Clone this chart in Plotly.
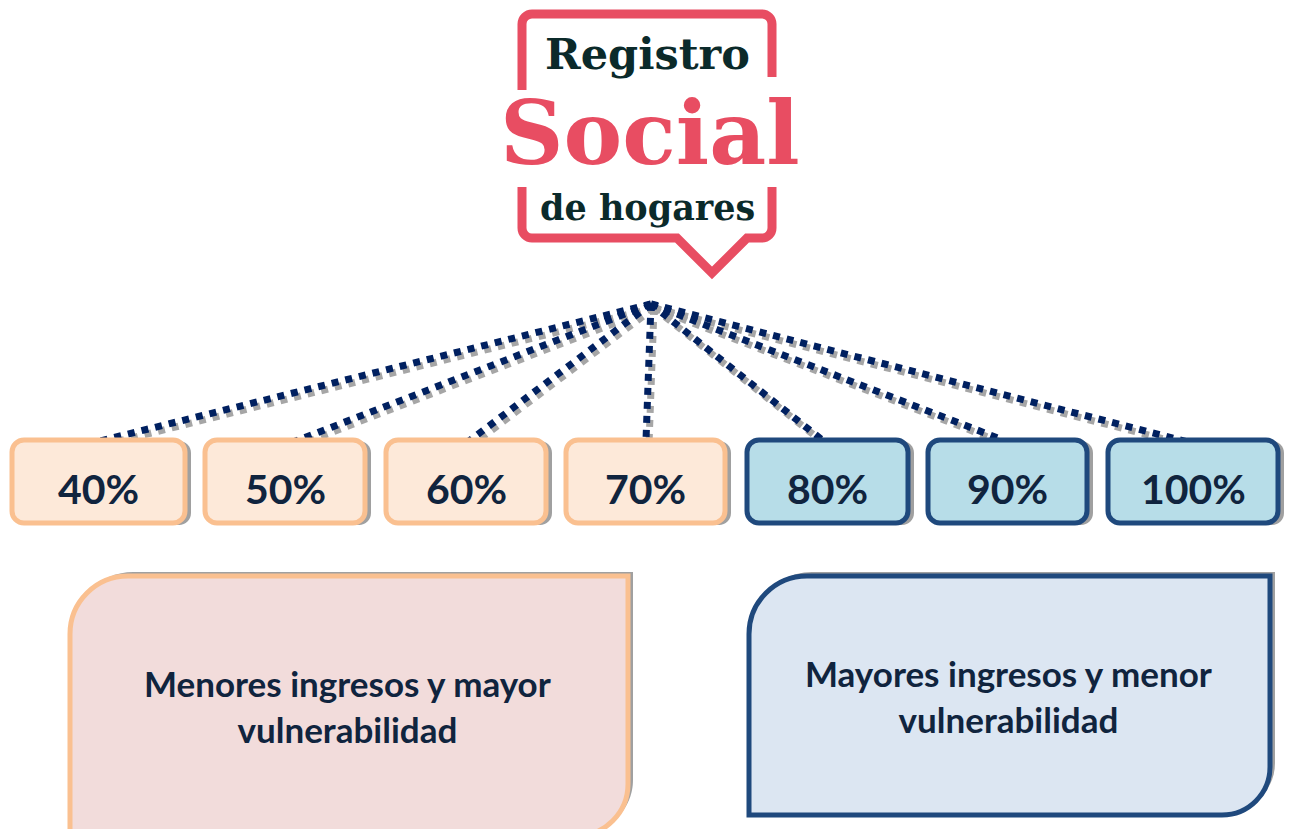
import plotly.graph_objects as go

# ---- data ----
percent_labels = ["40%", "50%", "60%", "70%", "80%", "90%", "100%"]
percent_group = ["low", "low", "low", "low", "high", "high", "high"]
group_texts = {"low": "Menores ingresos y mayor<br>vulnerabilidad",
               "high": "Mayores ingresos y menor<br>vulnerabilidad"}
logo_lines = ["Registro", "Social", "de hogares"]

# ---- layout constants ----
W, H = 1289, 829
box_x0 = [12, 205, 386, 566, 747, 928, 1108]
box_x1 = [185, 365, 546, 725, 908, 1087, 1278]
box_y0, box_y1 = 440, 523
line_ends = [(100, 441), (288, 444), (469, 441), (646, 440), (826, 443), (1003, 440), (1188, 442)]
hub = (651, 304)

NAVY_TXT = "#10243E"
LINE_NAVY = "#002060"
PINK = "#E84D62"
DARK = "#0B2A2A"
styles = {"low": dict(fill="#FDE9D9", border="#FAC090"),
          "high": dict(fill="#B7DDE8", border="#1F497D")}
big_styles = {"low": dict(fill="#F2DCDB", border="#FAC090"),
              "high": dict(fill="#DCE6F2", border="#1F497D")}

K = 0.5523


def rpath(x0, y0, x1, y1, tl=0, tr=0, br=0, bl=0):
    p = f"M {x0+tl},{y0} L {x1-tr},{y0} "
    if tr:
        p += f"C {x1-tr+K*tr},{y0} {x1},{y0+tr-K*tr} {x1},{y0+tr} "
    p += f"L {x1},{y1-br} "
    if br:
        p += f"C {x1},{y1-br+K*br} {x1-br+K*br},{y1} {x1-br},{y1} "
    p += f"L {x0+bl},{y1} "
    if bl:
        p += f"C {x0+bl-K*bl},{y1} {x0},{y1-bl+K*bl} {x0},{y1-bl} "
    p += f"L {x0},{y0+tl} "
    if tl:
        p += f"C {x0},{y0+tl-K*tl} {x0+tl-K*tl},{y0} {x0+tl},{y0} "
    return p + "Z"


fig = go.Figure()
shapes = []
annotations = []

# ---- logo frame ----
r = 10
fx0, fy0, fx1, fy1 = 522, 14, 772, 238
top_seg = (f"M {fx0},90 L {fx0},{fy0+r} C {fx0},{fy0+r-K*r} {fx0+r-K*r},{fy0} {fx0+r},{fy0} "
           f"L {fx1-r},{fy0} C {fx1-r+K*r},{fy0} {fx1},{fy0+r-K*r} {fx1},{fy0+r} L {fx1},77")
bot_seg = (f"M {fx0},187 L {fx0},{fy1-r} C {fx0},{fy1-r+K*r} {fx0+r-K*r},{fy1} {fx0+r},{fy1} "
           f"L 677,{fy1} L 712,273 L 747,{fy1} "
           f"L {fx1-r},{fy1} C {fx1-r+K*r},{fy1} {fx1},{fy1-r+K*r} {fx1},{fy1-r} L {fx1},187")
for seg in (top_seg, bot_seg):
    shapes.append(dict(type="path", path=seg, line=dict(color=PINK, width=9), layer="below"))

annotations += [
    dict(x=647, y=54, text=f"<b>{logo_lines[0]}</b>", font=dict(family="DejaVu Serif", size=43, color=DARK)),
    dict(x=650, y=133, text=f"<b>{logo_lines[1]}</b>", font=dict(family="DejaVu Serif", size=88, color=PINK)),
    dict(x=647, y=207, text=f"<b>{logo_lines[2]}</b>", font=dict(family="DejaVu Serif", size=35, color=DARK)),
]

# ---- dotted connector lines (shadow + line) ----
for (ex, ey) in line_ends:
    shapes.append(dict(type="line", x0=hub[0] + 3, y0=hub[1] + 4, x1=ex + 3, y1=ey + 4,
                       line=dict(color="#A6A6A6", width=7, dash="7px,7px"), layer="below"))
for (ex, ey) in line_ends:
    shapes.append(dict(type="line", x0=hub[0], y0=hub[1], x1=ex, y1=ey,
                       line=dict(color=LINE_NAVY, width=7, dash="7px,7px"), layer="below"))

# ---- percent boxes ----
for lab, grp, x0, x1 in zip(percent_labels, percent_group, box_x0, box_x1):
    st = styles[grp]
    shapes.append(dict(type="path", path=rpath(x0 + 6, box_y0 + 1, x1 + 6, box_y1 + 2, 12, 12, 12, 12),
                       fillcolor="#A0A0A0", line=dict(width=0), layer="above"))
    shapes.append(dict(type="path", path=rpath(x0, box_y0, x1, box_y1, 12, 12, 12, 12),
                       fillcolor=st["fill"], line=dict(color=st["border"], width=5), layer="above"))
    annotations.append(dict(x=(x0 + x1) / 2, y=488, text=f"<b>{lab}</b>",
                            font=dict(family="Lato", size=41, color=NAVY_TXT)))

# ---- big group boxes ----
big = {"low": (70, 576, 628, 836, 58, 52), "high": (749, 576, 1270, 815, 58, 48)}
for grp, (x0, y0, x1, y1, rtl, rbr) in big.items():
    st = big_styles[grp]
    shapes.append(dict(type="path", path=rpath(x0 + 5, y0 - 4, x1 + 5, y1 - 4, tl=rtl, br=rbr),
                       fillcolor="#A0A0A0", line=dict(width=0), layer="above"))
    shapes.append(dict(type="path", path=rpath(x0, y0, x1, y1, tl=rtl, br=rbr),
                       fillcolor=st["fill"], line=dict(color=st["border"], width=5), layer="above"))
annotations.append(dict(x=347, y=706, text=f"<b>{group_texts['low']}</b>",
                        font=dict(family="Lato", size=35, color=NAVY_TXT)))
annotations.append(dict(x=1008, y=696, text=f"<b>{group_texts['high']}</b>",
                        font=dict(family="Lato", size=35, color=NAVY_TXT)))

for a in annotations:
    a.update(xref="x", yref="y", showarrow=False, xanchor="center", yanchor="middle")

fig.update_layout(
    width=W, height=H, margin=dict(l=0, r=0, t=0, b=0),
    paper_bgcolor="white", plot_bgcolor="white",
    xaxis=dict(range=[0, W], visible=False, fixedrange=True),
    yaxis=dict(range=[H, 0], visible=False, fixedrange=True),
    shapes=shapes, annotations=annotations, showlegend=False,
)
fig.write_html("out.html", config={"displayModeBar": False},
               post_script="document.body.style.margin='0';document.body.style.overflow='hidden';")
